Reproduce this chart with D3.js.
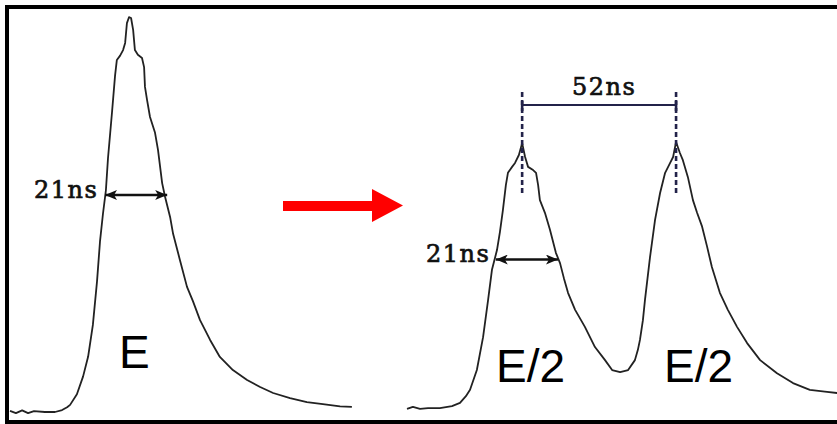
<!DOCTYPE html>
<html>
<head>
<meta charset="utf-8">
<script src="https://cdn.jsdelivr.net/npm/d3@7"></script>
<style>
  html, body { margin: 0; padding: 0; background: #fff; }
  svg { display: block; }
</style>
</head>
<body>
<svg id="chart" width="837" height="424"></svg>
<script>
// Single pulse of energy E: time (ns) and relative amplitude
const pulseTime = [0, 2.0, 4.1, 6.1, 8.1, 11.8, 15.2, 17.6, 19.3, 20.3, 22.6, 24.7, 26.4, 28.0, 29.4,
  30.4, 31.4, 32.4, 33.1, 34.5, 35.5, 36.1, 37.2, 38.2, 38.9, 39.5, 40.2, 40.9, 41.6, 42.2, 43.2,
  44.6, 45.3, 45.6, 46.3, 47.3, 49.0, 50.0, 51.4, 52.4, 54.1, 55.1, 57.4, 59.8, 61.8, 64.2, 67.6,
  70.9, 75.3, 80.1, 84.5, 88.9, 94.6, 100.3, 105.7, 111.5, 115.5];
const pulseAmp = [0.003, -0.003, 0.004, -0.003, 0.002, 0.0, 0.0, 0.005, 0.012, 0.018, 0.045, 0.09,
  0.14, 0.22, 0.33, 0.43, 0.5, 0.56, 0.64, 0.76, 0.85, 0.889, 0.9, 0.914, 0.932, 0.982, 0.997,
  0.995, 0.965, 0.914, 0.902, 0.894, 0.871, 0.821, 0.788, 0.745, 0.705, 0.662, 0.578, 0.543,
  0.492, 0.45, 0.384, 0.316, 0.28, 0.232, 0.182, 0.139, 0.106, 0.081, 0.063, 0.048, 0.035, 0.025,
  0.02, 0.014, 0.013];

// Split pulse pair, E/2 each: time (ns) and relative amplitude
const splitTime = [0, 2.0, 4.4, 7.1, 11.1, 15.2, 17.9, 19.9, 21.3, 23.6, 25.7, 27.4, 28.7, 30.4,
  31.4, 32.4, 33.4, 34.1, 35.5, 36.5, 37.8, 38.9, 39.9, 40.9, 42.6, 43.6, 44.3, 44.9, 46.6, 48.3,
  50.3, 51.7, 53.0, 54.4, 56.8, 60.1, 63.5, 66.9, 69.3, 72.0, 74.7, 77.0, 78.0, 78.7, 79.7, 80.4,
  82.1, 83.8, 85.5, 87.2, 88.9, 89.9, 90.9, 92.2, 93.2, 94.9, 96.6, 98.0, 99.7, 101.4, 103.0,
  105.7, 108.4, 111.5, 114.9, 119.3, 125.0, 130.4, 136.1, 141.9, 145.3];
const splitAmp = [0.008, 0.013, 0.008, 0.01, 0.01, 0.015, 0.023, 0.04, 0.056, 0.106, 0.189, 0.283,
  0.359, 0.409, 0.455, 0.51, 0.573, 0.604, 0.619, 0.629, 0.649, 0.679, 0.644, 0.619, 0.611, 0.604,
  0.573, 0.535, 0.503, 0.46, 0.402, 0.376, 0.338, 0.301, 0.258, 0.215, 0.164, 0.131, 0.106, 0.101,
  0.106, 0.131, 0.157, 0.182, 0.232, 0.283, 0.391, 0.485, 0.553, 0.604, 0.629, 0.644, 0.682, 0.654,
  0.636, 0.593, 0.535, 0.503, 0.468, 0.417, 0.366, 0.301, 0.258, 0.215, 0.174, 0.131, 0.098, 0.073,
  0.056, 0.051, 0.048];

// Annotation values (ns)
const fwhm = 21;
const peakSpacing = 52;
const pulseFwhmStart = 32.1, pulseFwhmLevel = 0.548;
const splitFwhmStart = 30.0, splitFwhmLevel = 0.385;
const splitPeak1 = 38.9;
const labels = { fwhm: "21ns", spacing: "52ns", whole: "E", half: "E/2" };

const svg = d3.select("#chart");
const nsPx = 2.96;

const xLeft = d3.scaleLinear().domain([0, 116]).range([10, 10 + 116 * nsPx]);
const xRight = d3.scaleLinear().domain([0, 146]).range([407, 407 + 146 * nsPx]);
const y = d3.scaleLinear().domain([0, 1]).range([412, 16]);

// frame
const frame = svg.append("g").attr("fill", "#000");
frame.append("rect").attr("x", 5).attr("y", 5).attr("width", 832).attr("height", 4);
frame.append("rect").attr("x", 5).attr("y", 5).attr("width", 4).attr("height", 419);
frame.append("rect").attr("x", 5).attr("y", 420).attr("width", 832).attr("height", 4);

// waveforms
function trace(xs, times, amps) {
  const pts = times.map((t, i) => [t, amps[i]]);
  return d3.line().x(d => xs(d[0])).y(d => y(d[1]))(pts);
}
svg.append("path").attr("d", trace(xLeft, pulseTime, pulseAmp))
  .attr("fill", "none").attr("stroke", "#222").attr("stroke-width", 1.8)
  .attr("stroke-linejoin", "round");
svg.append("path").attr("d", trace(xRight, splitTime, splitAmp))
  .attr("fill", "none").attr("stroke", "#222").attr("stroke-width", 1.8)
  .attr("stroke-linejoin", "round");

// double-headed arrows
const defs = svg.append("defs");
["start", "end"].forEach(k => {
  defs.append("marker").attr("id", "head-" + k)
    .attr("viewBox", "0 0 12 10").attr("refX", 12).attr("refY", 5)
    .attr("markerWidth", 12).attr("markerHeight", 10).attr("markerUnits", "userSpaceOnUse")
    .attr("orient", k === "start" ? "auto-start-reverse" : "auto")
    .append("path").attr("d", "M0,0 L12,5 L0,10 L3,5 Z").attr("fill", "#111");
});
function fwhmArrow(xs, t0, level) {
  svg.append("line")
    .attr("x1", xs(t0)).attr("x2", xs(t0 + fwhm))
    .attr("y1", y(level)).attr("y2", y(level))
    .attr("stroke", "#111").attr("stroke-width", 2.4)
    .attr("marker-start", "url(#head-start)").attr("marker-end", "url(#head-end)");
}
fwhmArrow(xLeft, pulseFwhmStart, pulseFwhmLevel);
fwhmArrow(xRight, splitFwhmStart, splitFwhmLevel);

// peak spacing bracket
const navy = "#23234a";
const p1 = xRight(splitPeak1), p2 = xRight(splitPeak1 + peakSpacing);
[p1, p2].forEach(px => {
  svg.append("line").attr("x1", px).attr("x2", px).attr("y1", 92).attr("y2", 193)
    .attr("stroke", navy).attr("stroke-width", 2.6).attr("stroke-dasharray", "5,3");
});
svg.append("line").attr("x1", p1).attr("x2", p2).attr("y1", 105).attr("y2", 105)
  .attr("stroke", navy).attr("stroke-width", 2.2);
[p1, p2].forEach(px => {
  svg.append("line").attr("x1", px).attr("x2", px).attr("y1", 101).attr("y2", 111)
    .attr("stroke", navy).attr("stroke-width", 2.6);
});

// serif value labels
const serif = "'DejaVu Serif', 'Liberation Serif', serif";
function serifLabel(txt, x, yb) {
  svg.append("text").attr("x", x).attr("y", yb).text(txt)
    .attr("font-family", serif).attr("font-size", 24).attr("letter-spacing", 1.5)
    .attr("fill", "#111").attr("stroke", "#111").attr("stroke-width", 0.7);
}
serifLabel(labels.fwhm, 34, 198);
serifLabel(labels.fwhm, 426, 262);
serifLabel(labels.spacing, 572, 95);

// energy labels
const sans = "'Liberation Sans', Arial, sans-serif";
function energyLabel(txt, x, yb) {
  svg.append("text").attr("x", x).attr("y", yb).text(txt)
    .attr("font-family", sans).attr("font-size", 46).attr("fill", "#000");
}
energyLabel(labels.whole, 119, 368);
energyLabel(labels.half, 496, 382);
energyLabel(labels.half, 664, 382);

// red transition arrow
svg.append("path")
  .attr("d", "M283,201 L372,201 L372,189 L403,205.5 L372,222 L372,211 L283,211 Z")
  .attr("fill", "#ff0000");
</script>
</body>
</html>
